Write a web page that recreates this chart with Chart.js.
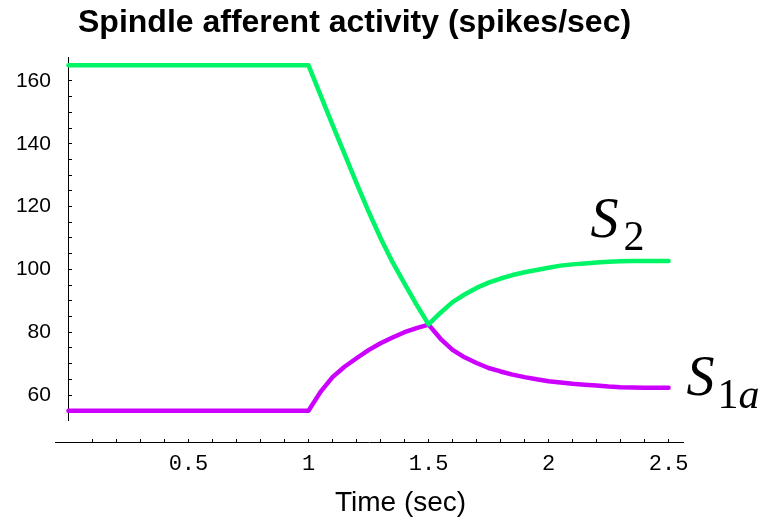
<!DOCTYPE html>
<html>
<head>
<meta charset="utf-8">
<title>Spindle afferent activity</title>
<script src="https://cdn.jsdelivr.net/npm/chart.js@4.4.1/dist/chart.umd.min.js"></script>
<style>
  html, body { margin: 0; padding: 0; background: #fff; }
  #wrap { width: 766px; height: 520px; }
</style>
</head>
<body>
<div id="wrap"><canvas id="spindle" width="766" height="520"></canvas></div>
<script>
// tiempo (seg) y actividad
const timeSec = [0, 1.0, 1.05, 1.1, 1.15, 1.2, 1.25, 1.3, 1.35, 1.4, 1.45, 1.5,
  1.55, 1.6, 1.65, 1.7, 1.75, 1.8, 1.85, 1.9, 1.95, 2.0,
  2.05, 2.1, 2.15, 2.2, 2.25, 2.3, 2.35, 2.4, 2.45, 2.5];
const s2Rate = [165, 165, 155.5, 146, 136.8, 127.5, 118.5, 110, 102.3, 95.5, 88.8, 82.5,
  86.2, 89.6, 92, 94.1, 95.8, 97.1, 98.2, 99.1, 99.8, 100.5,
  101.2, 101.6, 101.9, 102.2, 102.4, 102.6, 102.7, 102.7, 102.7, 102.7];
const s1aRate = [55, 55, 61, 65.7, 69, 71.7, 74.3, 76.5, 78.3, 80, 81.3, 82.4,
  77.9, 74.4, 72, 70.2, 68.6, 67.5, 66.5, 65.7, 65.0, 64.4,
  64.0, 63.6, 63.3, 63.0, 62.7, 62.5, 62.4, 62.3, 62.3, 62.3];

// marcas de los ejes
const xTickValues = [];
for (let i = 1; i <= 25; i++) xTickValues.push(i / 10);
const xLabelValues = [0.5, 1, 1.5, 2, 2.5];
const yTickValues = [];
for (let v = 55; v <= 165; v += 5) yTickValues.push(v);
const yLabelValues = [60, 80, 100, 120, 140, 160];

const chartTitle = 'Spindle afferent activity (spikes/sec)';
const xTitle = 'Time (sec)';

function toPoints(values) {
  return timeSec.map((t, i) => ({ x: t, y: values[i] }));
}

// textos: título, eje x y las etiquetas S2 / S1a
const textPlugin = {
  id: 'textos',
  afterDraw(chart) {
    const ctx = chart.ctx;
    const xs = chart.scales.x;
    const ys = chart.scales.y;
    ctx.save();
    ctx.fillStyle = '#000';
    ctx.textBaseline = 'alphabetic';
    ctx.textAlign = 'left';

    ctx.font = 'bold 32px "Liberation Sans", Arial, sans-serif';
    ctx.fillText(chartTitle, 78, 32);

    ctx.font = '28px "Liberation Sans", Arial, sans-serif';
    ctx.fillText(xTitle, 335, 511);

    // S con subíndice
    function subLabel(t, v, gap, parts) {
      let px = xs.getPixelForValue(t);
      const py = ys.getPixelForValue(v);
      ctx.font = 'italic 56px "Liberation Serif", "Times New Roman", serif';
      ctx.fillText('S', px, py);
      px += ctx.measureText('S').width + gap;
      parts.forEach(p => {
        ctx.font = (p.italic ? 'italic ' : '') + '42px "Liberation Serif", "Times New Roman", serif';
        ctx.fillText(p.text, px, py + 13);
        px += ctx.measureText(p.text).width;
      });
    }
    subLabel(2.175, 110.4, 5, [{ text: '2' }]);
    subLabel(2.575, 60, 3, [{ text: '1' }, { text: 'a', italic: true }]);
    ctx.restore();
  }
};

const ctx = document.getElementById('spindle');
new Chart(ctx, {
  type: 'line',
  data: {
    datasets: [
      {
        label: 'S2',
        data: toPoints(s2Rate),
        borderColor: '#00f566',
        borderWidth: 4.5,
        pointRadius: 0,
        tension: 0,
        borderCapStyle: 'round',
        borderJoinStyle: 'round'
      },
      {
        label: 'S1a',
        data: toPoints(s1aRate),
        borderColor: '#cc00ff',
        borderWidth: 4.5,
        pointRadius: 0,
        tension: 0,
        borderCapStyle: 'round',
        borderJoinStyle: 'round'
      }
    ]
  },
  options: {
    responsive: false,
    animation: false,
    layout: { padding: { left: 55, top: 57, right: 83, bottom: 100 } },
    plugins: {
      legend: { display: false },
      title: { display: false },
      tooltip: { enabled: false }
    },
    scales: {
      x: {
        type: 'linear',
        position: { y: 45.03 },
        min: -0.056,
        max: 2.56,
        afterBuildTicks: scale => {
          scale.ticks = xTickValues.map(v => ({ value: v }));
        },
        grid: {
          drawOnChartArea: false,
          tickLength: -4,
          color: '#000',
          tickColor: '#000'
        },
        border: { display: true, color: '#000', width: 1 },
        ticks: {
          autoSkip: false,
          maxRotation: 0,
          padding: 13,
          color: '#000',
          font: { family: '"Liberation Mono", "Courier New", monospace', size: 22 },
          callback: value => xLabelValues.includes(Math.round(value * 10) / 10) ? String(value) : ''
        }
      },
      y: {
        type: 'linear',
        position: { x: 0 },
        min: 52.04,
        max: 167.64,
        afterBuildTicks: scale => {
          scale.ticks = yTickValues.map(v => ({ value: v }));
        },
        grid: {
          drawOnChartArea: false,
          tickLength: -4,
          color: '#000',
          tickColor: '#000'
        },
        border: { display: true, color: '#000', width: 1 },
        ticks: {
          autoSkip: false,
          color: '#000',
          font: { family: '"Liberation Sans", Arial, sans-serif', size: 21 },
          // con posición fija la etiqueta queda pegada al eje: se separa con espacios
          callback: value => yLabelValues.includes(value) ? String(value) + '   ' : ''
        }
      }
    }
  },
  plugins: [textPlugin]
});
</script>
</body>
</html>
